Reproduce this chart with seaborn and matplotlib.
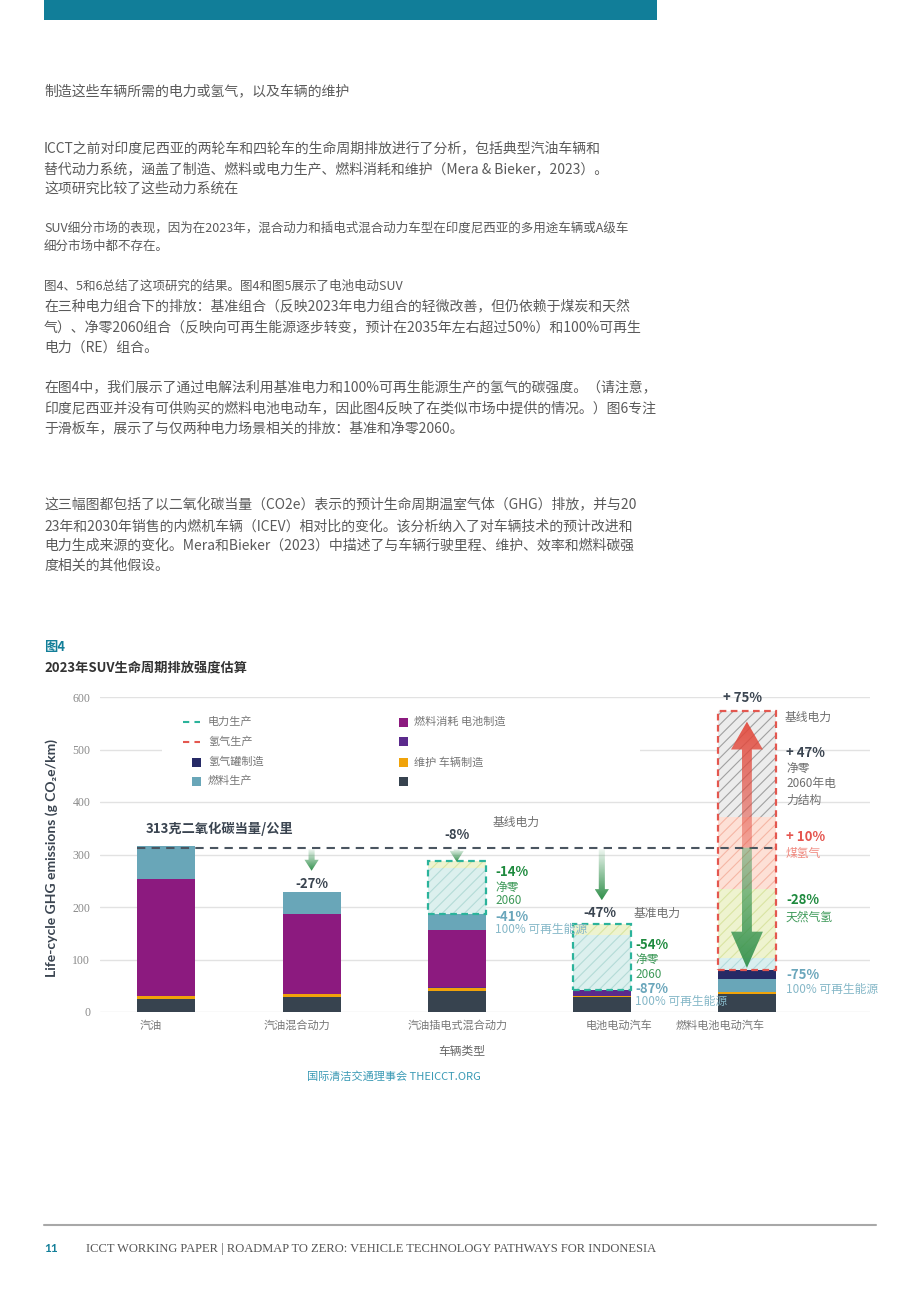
import numpy as np
import pandas as pd
import matplotlib
matplotlib.use("Agg")
import matplotlib.pyplot as plt
import seaborn as sns
from matplotlib.patches import Polygon, Rectangle
from matplotlib.lines import Line2D

# ---------------- data ----------------
categories = ["汽油", "汽油混合动力", "汽油插电式混合动力", "电池电动汽车", "燃料电池电动汽车"]
vehicle_mfg = [25, 29, 40, 28, 35]
maintenance = [6, 5, 6, 2, 3]
battery_mfg = [0, 0, 2, 11, 0]
fuel_consumption = [222, 153, 109, 0, 0]
fuel_production = [63, 42, 30, 0, 24]
h2_tank = [0, 0, 0, 0, 18]

# hatched scenario segments (stacked above the solid bars)
elec_renewable_part = [0, 0, 87, 106, 0]
elec_fossil_part = [0, 0, 14, 21, 0]
h2_renewable = [0, 0, 0, 0, 23]
h2_natural_gas = [0, 0, 0, 0, 131]
h2_coal = [0, 0, 0, 0, 138]
h2_grid = [0, 0, 0, 0, 201]

baseline_gasoline = 313
small_arrow_targets = {1: 269, 2: 286, 3: 213}
fcev_arrow_up_to = 553
fcev_arrow_down_to = 84

legend_left = ["电力生产", "氢气生产", "氢气罐制造", "燃料生产"]
legend_right = ["燃料消耗 电池制造", "", "维护 车辆制造", ""]

# ---------------- style ----------------
sns.set_theme(style="white")
plt.rcParams['font.family'] = ['Noto Sans CJK SC', 'DejaVu Sans']
plt.rcParams['hatch.linewidth'] = 0.8

C_VEH = "#37434f"
C_MAINT = "#f0a30a"
C_BAT = "#5b2a8c"
C_FC = "#8c1a7f"
C_FP = "#69a6b8"
C_TANK = "#262a66"
C_TEAL_DASH = "#2bb39b"
C_RED_DASH = "#e4574f"
C_GREEN = "#1e8a3e"
C_TEALTXT = "#6aa6bb"
C_DARK = "#3a4450"
C_GRAY = "#6f6f6f"
C_BODY = "#5a5a5a"
C_BRAND = "#137f99"

W, H = 920, 1302
fig = plt.figure(figsize=(W / 100, H / 100), dpi=100)


def fx(x):
    return x / W


def fy(y):
    return 1 - y / H


def T(x, y, s, **kw):
    kw.setdefault('va', 'center')
    return fig.text(fx(x), fy(y), s, **kw)


# ---------------- page elements ----------------
fig.add_artist(Rectangle((fx(44), fy(20)), fx(657) - fx(44), fy(0) - fy(20),
                         transform=fig.transFigure, color="#117e99", lw=0))

body = [
    (91, "制造这些车辆所需的电力或氢气，以及车辆的维护", 10),
    (148, "ICCT之前对印度尼西亚的两轮车和四轮车的生命周期排放进行了分析，包括典型汽油车辆和", 10),
    (169, "替代动力系统，涵盖了制造、燃料或电力生产、燃料消耗和维护（Mera & Bieker，2023）。", 10),
    (189, "这项研究比较了这些动力系统在", 10),
    (228, "SUV细分市场的表现，因为在2023年，混合动力和插电式混合动力车型在印度尼西亚的多用途车辆或A级车", 9),
    (246, "细分市场中都不存在。", 9),
    (286, "图4、5和6总结了这项研究的结果。图4和图5展示了电池电动SUV", 9),
    (307, "在三种电力组合下的排放：基准组合（反映2023年电力组合的轻微改善，但仍依赖于煤炭和天然", 10),
    (327, "气）、净零2060组合（反映向可再生能源逐步转变，预计在2035年左右超过50%）和100%可再生", 10),
    (348, "电力（RE）组合。", 10),
    (387, "在图4中，我们展示了通过电解法利用基准电力和100%可再生能源生产的氢气的碳强度。（请注意，", 10),
    (408, "印度尼西亚并没有可供购买的燃料电池电动车，因此图4反映了在类似市场中提供的情况。）图6专注", 10),
    (428, "于滑板车，展示了与仅两种电力场景相关的排放：基准和净零2060。", 10),
    (505, "这三幅图都包括了以二氧化碳当量（CO2e）表示的预计生命周期温室气体（GHG）排放，并与20", 10),
    (526, "23年和2030年销售的内燃机车辆（ICEV）相对比的变化。该分析纳入了对车辆技术的预计改进和", 10),
    (546, "电力生成来源的变化。Mera和Bieker（2023）中描述了与车辆行驶里程、维护、效率和燃料碳强", 10),
    (566, "度相关的其他假设。", 10),
]
for y, s, fs in body:
    T(44, y, s, fontsize=fs, color=C_BODY)

T(44, 647, "图4", fontsize=9.5, fontweight='bold', color=C_BRAND)
T(44, 667, "2023年SUV生命周期排放强度估算", fontsize=9.5, fontweight='bold', color="#333333")

# footer
fig.add_artist(Line2D([fx(44), fx(876)], [fy(1225), fy(1225)], transform=fig.transFigure,
                      color="#a8a8a8", lw=1.5))
T(44, 1249, "11", fontsize=8.5, fontweight='bold', color=C_BRAND, family=['Lato', 'DejaVu Sans'])
T(86, 1249, "ICCT WORKING PAPER | ROADMAP TO ZERO: VEHICLE TECHNOLOGY PATHWAYS FOR INDONESIA",
  fontsize=9, color="#555555", family=['Liberation Serif', 'DejaVu Serif'])

# ---------------- chart ----------------
ax = fig.add_axes([fx(100), fy(1012), fx(870) - fx(100), fy(697) - fy(1012)])
BW = 0.4

segs = [(vehicle_mfg, C_VEH), (maintenance, C_MAINT), (battery_mfg, C_BAT),
        (fuel_consumption, C_FC), (fuel_production, C_FP), (h2_tank, C_TANK)]
cum = np.cumsum(np.array([s[0] for s in segs]), axis=0)
for i in reversed(range(len(segs))):
    df = pd.DataFrame({"cat": categories, "val": cum[i]})
    sns.barplot(data=df, x="cat", y="val", order=categories, color=segs[i][1],
                width=BW, linewidth=0, errorbar=None, saturation=1, ax=ax, zorder=2)

solid_top = cum[-1]
xs = np.arange(len(categories))

hatched = [(elec_renewable_part, "#dcf0ee", "#b4dbd7"),
           (elec_fossil_part, "#eef3cf", "#d9e4a2"),
           (h2_renewable, "#d9efef", "#b3dcdc"),
           (h2_natural_gas, "#eef3cf", "#d9e4a2"),
           (h2_coal, "#fde0d6", "#f5b6a5"),
           (h2_grid, "#ececec", "#a0a0a0")]
bottom = solid_top.astype(float).copy()
for vals, fc, hc in hatched:
    v = np.array(vals, dtype=float)
    m = v > 0
    ax.bar(xs[m], v[m], bottom=bottom[m], width=BW, color=fc, edgecolor=hc,
           hatch='///', linewidth=0, zorder=2.5)
    bottom += v
scen_top = bottom

# dashed borders around scenario boxes
for idx, col in [(2, C_TEAL_DASH), (3, C_TEAL_DASH), (4, C_RED_DASH)]:
    ax.bar(xs[idx], scen_top[idx] - solid_top[idx], bottom=solid_top[idx], width=BW,
           fill=False, edgecolor=col, linestyle=(0, (3, 2)), linewidth=1.6, zorder=3)

# baseline dashed line
ax.hlines(baseline_gasoline, xs[0] - BW / 2, xs[4] + BW / 2, colors="#4a5560",
          linestyles=(0, (4, 3)), linewidth=1.5, zorder=3.5)


def grad_arrow(x, y0, y1, shaft_w, head_w, head_len, rgb, a0, a1, z=5):
    d = 1 if y1 > y0 else -1
    yh = y1 - d * head_len
    verts = [(x - shaft_w / 2, y0), (x + shaft_w / 2, y0), (x + shaft_w / 2, yh),
             (x + head_w / 2, yh), (x, y1), (x - head_w / 2, yh), (x - shaft_w / 2, yh)]
    poly = Polygon(verts, closed=True, facecolor='none', edgecolor='none')
    ax.add_patch(poly)
    n = 256
    img = np.zeros((n, 1, 4))
    img[..., :3] = matplotlib.colors.to_rgb(rgb)
    al = np.linspace(a0, a1, n)
    if y1 < y0:
        al = al[::-1]
    img[:, 0, 3] = al
    lo, hi = min(y0, y1), max(y0, y1)
    im = ax.imshow(img, extent=[x - head_w / 2, x + head_w / 2, lo, hi], origin='lower',
                   aspect='auto', zorder=z, interpolation='bilinear')
    im.set_clip_path(poly)


GREEN_ARROW = "#2f8f4a"
RED_ARROW = "#e2483b"
for xi, tgt in small_arrow_targets.items():
    grad_arrow(xi, baseline_gasoline - 3, tgt, 0.042, 0.098, 21, GREEN_ARROW, 0.08, 1.0)
grad_arrow(4, baseline_gasoline, fcev_arrow_up_to, 0.068, 0.22, 53, RED_ARROW, 0.4, 0.92, z=5)
grad_arrow(4, baseline_gasoline, fcev_arrow_down_to, 0.068, 0.22, 69, GREEN_ARROW, 0.4, 0.92, z=5.1)

ax.set_xlim(-0.458, 4.848)
ax.set_ylim(0, 600)
ax.set_yticks([0, 100, 200, 300, 400, 500, 600])
ax.yaxis.grid(True, color="#e2e2e2", linewidth=1)
ax.xaxis.grid(False)
ax.set_axisbelow(True)
for sp in ax.spines.values():
    sp.set_visible(False)
ax.set_xlabel("")
ax.set_ylabel("")
ax.tick_params(axis='y', length=0, pad=7, labelsize=8.5, labelcolor="#8a8a8a")
for lab in ax.get_yticklabels():
    lab.set_family(['Liberation Serif', 'DejaVu Serif'])
# category labels sit slightly off the bar centres in the reference
ax.set_xticks([])
cat_label_px = [151, 297, 458, 619, 720]
for cx, s in zip(cat_label_px, categories):
    T(cx, 1026, s, ha='center', fontsize=8, color="#777777")

fig.text(fx(52), fy(858), "Life-cycle GHG emissions (g CO₂e/km)", rotation=90, ha='center', va='center',
         fontsize=10, fontweight='bold', color=C_DARK, family=['Lato', 'DejaVu Sans'])
T(462, 1051, "车辆类型", ha='center', fontsize=8.5, color="#666666")
T(394, 1077, "国际清洁交通理事会 THEICCT.ORG", ha='center', fontsize=8, color="#3a9ab5")

# legend (manual, white box over gridline)
fig.add_artist(Rectangle((fx(162), fy(795)), fx(640) - fx(162), fy(703) - fy(795),
                         transform=fig.transFigure, color="white", lw=0, zorder=1))
leg_rows = [722, 742, 762, 781]
fig.add_artist(Line2D([fx(183), fx(200)], [fy(722)] * 2, transform=fig.transFigure,
                      color=C_TEAL_DASH, lw=1.5, ls=(0, (3, 2.5)), zorder=2))
fig.add_artist(Line2D([fx(183), fx(200)], [fy(742)] * 2, transform=fig.transFigure,
                      color=C_RED_DASH, lw=1.5, ls=(0, (3, 2.5)), zorder=2))
for y, c in [(762, C_TANK), (781, C_FP)]:
    fig.add_artist(Rectangle((fx(192), fy(y + 4.5)), fx(9) - fx(0), fy(0) - fy(9),
                             transform=fig.transFigure, color=c, lw=0, zorder=2))
for y, c in zip(leg_rows, [C_FC, C_BAT, C_MAINT, C_VEH]):
    fig.add_artist(Rectangle((fx(399), fy(y + 4.5)), fx(9) - fx(0), fy(0) - fy(9),
                             transform=fig.transFigure, color=c, lw=0, zorder=2))
for y, s in zip(leg_rows, legend_left):
    T(208, y, s, fontsize=8, color="#777777", zorder=3)
for y, s in zip(leg_rows, legend_right):
    if s:
        T(414, y, s, fontsize=8, color="#777777", zorder=3)

# annotations
B = dict(fontweight='bold', fontsize=9.5)
N = dict(fontsize=8.5)
T(146, 829, "313克二氧化碳当量/公里", color=C_DARK, **B)
T(312, 884, "-27%", ha='center', color=C_DARK, **B)
T(457, 835, "-8%", ha='center', color=C_DARK, **B)
T(493, 822, "基线电力", color=C_GRAY, **N)
T(495, 872, "-14%", color=C_GREEN, **B)
T(495, 887, "净零", color="#3f9a5a", **N)
T(495, 901, "2060", color="#3f9a5a", **N)
T(495, 917, "-41%", color=C_TEALTXT, **B)
T(495, 930, "100% 可再生能源", color="#86b8c8", **N)
T(600, 913, "-47%", ha='center', color=C_DARK, **B)
T(634, 913, "基准电力", color=C_GRAY, **N)
T(635, 945, "-54%", color=C_GREEN, **B)
T(635, 959, "净零", color="#3f9a5a", **N)
T(635, 974, "2060", color="#3f9a5a", **N)
T(635, 989, "-87%", color=C_TEALTXT, **B)
T(635, 1002, "100% 可再生能源", color="#86b8c8", **N)
T(723, 698, "+ 75%", color=C_DARK, **B)
T(785, 717, "基线电力", color=C_GRAY, **N)
T(786, 753, "+ 47%", color=C_DARK, **B)
T(786, 768, "净零", color=C_GRAY, **N)
T(786, 784, "2060年电", color=C_GRAY, **N)
T(786, 800, "力结构", color=C_GRAY, **N)
T(786, 837, "+ 10%", color="#e5554f", **B)
T(786, 853, "煤氢气", color="#f08a80", **N)
T(786, 900, "-28%", color=C_GREEN, **B)
T(786, 917, "天然气氢", color="#3f9a5a", **N)
T(786, 975, "-75%", color=C_TEALTXT, **B)
T(786, 989, "100% 可再生能源", color="#86b8c8", **N)

fig.savefig("out.png", dpi=100)
